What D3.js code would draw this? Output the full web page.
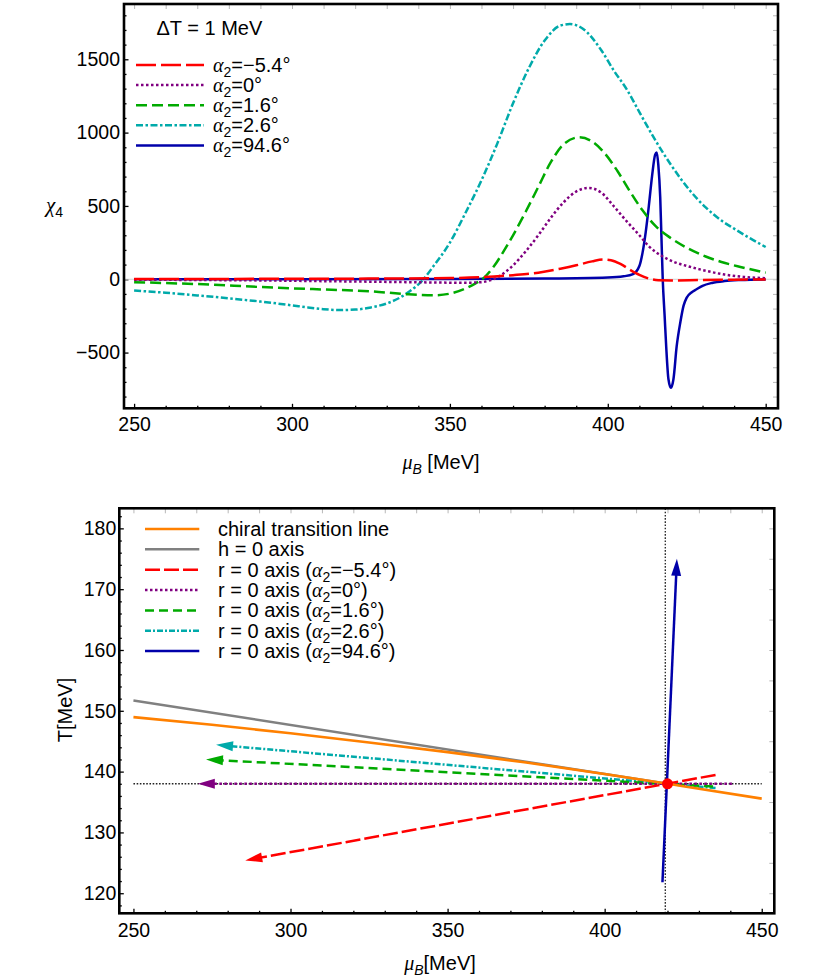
<!DOCTYPE html>
<html>
<head>
<meta charset="utf-8">
<script src="https://cdn.jsdelivr.net/npm/d3@7"></script>
<style>
  body { margin: 0; background: #fff; }
  text { font-family: "Liberation Sans", Arial, Helvetica, sans-serif; }
</style>
</head>
<body>
<svg id="chart" width="830" height="979"></svg>
<script>
// ---- top panel: chi_4 vs mu_B, one curve per alpha_2 ----
const alphaLabels = ['−5.4°', '0°', '1.6°', '2.6°', '94.6°'];

const muRed  = [250, 300, 330, 350, 360, 370, 378, 385, 390, 395, 398.5, 401, 404, 407, 410, 413, 416, 420, 430, 440, 450];
const chiRed = [2, 3, 5, 8, 14, 28, 45, 72, 95, 122, 135, 130, 105, 65, 30, 5, -7, -8, -5, -3, -2];

const muPurple  = [250, 270, 290, 310, 330, 345, 355, 360, 363, 366, 370, 374, 378, 382, 386, 390, 394, 398, 402, 406, 410, 413, 417, 421, 426, 431, 437, 443, 450];
const chiPurple = [-3, -5, -8, -13, -18, -22, -24, -20, -5, 25, 95, 190, 300, 420, 525, 598, 623, 590, 495, 395, 300, 225, 160, 118, 85, 58, 32, 16, 7];

const muGreen  = [250, 270, 290, 310, 325, 337, 345, 350, 355, 358, 361, 364, 367, 370, 374, 378, 382, 386, 391, 395, 399, 403, 407, 411, 415, 420, 425, 431, 436, 442, 450];
const chiGreen = [-20, -33, -53, -70, -82, -103, -109, -98, -62, -30, 15, 90, 190, 300, 460, 630, 800, 920, 968, 940, 860, 740, 600, 470, 365, 280, 215, 155, 118, 84, 45];

const muCyan  = [250, 260, 270, 280, 290, 300, 305, 310, 315, 320, 325, 330, 335, 338, 341, 345, 350, 355, 360, 365, 370, 375, 380, 385, 388, 392, 398, 402, 406, 410, 415, 420, 426, 431, 436, 440, 445, 450];
const chiCyan = [-77, -92, -110, -130, -152, -178, -192, -204, -210, -207, -192, -165, -115, -70, -15, 95, 250, 455, 675, 925, 1200, 1440, 1628, 1730, 1740, 1710, 1560, 1420, 1295, 1140, 950, 780, 605, 490, 400, 345, 280, 220];

const muBlue  = [250, 350, 380, 400, 405, 408, 410, 411, 412, 413, 414, 415, 415.5, 416, 416.6, 417, 417.4, 418, 418.5, 419.2, 420, 420.8, 421.8, 423, 424, 425, 426.5, 428, 430, 433, 437, 442, 450];
const chiBlue = [0, 2, 5, 12, 20, 35, 90, 180, 320, 500, 700, 850, 865, 780, 560, 280, 0, -250, -460, -680, -740, -680, -460, -290, -180, -125, -90, -70, -45, -25, -12, -5, -1];

const topXTicks = [250, 300, 350, 400, 450];
const topYTicks = [-500, 0, 500, 1000, 1500];

// ---- bottom panel: lines in the (mu_B, T) plane ----
const chiralMu = [250, 275, 300, 325, 350, 375, 400, 425, 450];
const chiralT  = [148.96, 147.7, 146.3, 144.8, 143.2, 141.5, 139.6, 137.6, 135.56];
const hZeroLine  = [[250, 151.7], [420, 138]];
// r = 0 axes, listed from the tail to the arrow tip
const rRed    = [[435.3, 139.45], [285.6, 125.4]];
const rPurple = [[440.5, 138], [270.5, 138]];
const rGreen  = [[434.5, 137.57], [273.1, 142.0]];
const rCyan   = [[435.3, 137.3], [276.3, 144.4]];
const rBlue   = [[418.4, 121.8], [423.0, 175.0]];
const critPoint = [420, 138];
const guideMu = 419.3, guideT = 138;
const botLabels = ['chiral transition line', 'h = 0 axis', '−5.4°', '0°', '1.6°', '2.6°', '94.6°'];

const botXTicks = [250, 300, 350, 400, 450];
const botYTicks = [120, 130, 140, 150, 160, 170, 180];

// ---- styles ----
const RED = '#ff0000', PURPLE = '#800080', GREEN = '#00aa00', CYAN = '#00aaaa', BLUE = '#0000aa',
      ORANGE = '#ff8000', GRAY = '#808080';
const topColors = [RED, PURPLE, GREEN, CYAN, BLUE];
const topDash = ['20,5', '2.5,2.5', '11,5', '7,2.5,2.5,2.5', null];

const svg = d3.select('#chart');

function range(a, b, s) { return d3.range(a, b + s / 2, s); }

function frameAxes(x, y, o) {
  const [L, R] = x.range(), [B, T] = y.range();
  const gray = g => { g.select('.domain').remove(); g.selectAll('line').attr('stroke', '#b8b8b8'); };
  const black = g => { g.select('.domain').remove(); g.selectAll('line').attr('stroke', '#000').attr('stroke-width', 1.3); };

  // top and right: grey inward ticks, no labels
  svg.append('g').attr('transform', `translate(0,${T})`)
    .call(d3.axisTop(x).tickValues(range(250, 450, 10)).tickSize(-5).tickFormat('')).call(gray);
  svg.append('g').attr('transform', `translate(${R},0)`)
    .call(d3.axisRight(y).tickValues(o.rightTicks).tickSize(-5).tickFormat('')).call(gray);

  // bottom: minor + major
  svg.append('g').attr('transform', `translate(0,${B})`)
    .call(d3.axisBottom(x).tickValues(range(250, 450, 10).filter(v => v % 50)).tickSize(-2.5).tickFormat('')).call(black);
  svg.append('g').attr('transform', `translate(0,${B})`)
    .call(d3.axisBottom(x).tickValues(o.xTicks).tickSize(-4.5).tickPadding(o.xPad).tickFormat(d3.format('d')))
    .call(black)
    .call(g => g.selectAll('text').attr('font-size', 19.5).attr('font-family', null).attr('fill', '#000'));

  // left: minor + major
  svg.append('g').attr('transform', `translate(${L},0)`)
    .call(d3.axisLeft(y).tickValues(o.yMinor.filter(v => !o.yTicks.includes(v))).tickSize(-2.5).tickFormat('')).call(black);
  svg.append('g').attr('transform', `translate(${L},0)`)
    .call(d3.axisLeft(y).tickValues(o.yTicks).tickSize(-4.5).tickPadding(o.yPad).tickFormat(d3.format('d')))
    .call(black)
    .call(g => g.selectAll('text').attr('font-size', 19.5).attr('font-family', null).attr('fill', '#000'));
}

function drawFrame(x, y) {
  const [L, R] = x.range(), [B, T] = y.range();
  svg.append('rect').attr('x', L).attr('y', T).attr('width', R - L).attr('height', B - T)
    .attr('fill', 'none').attr('stroke', '#000').attr('stroke-width', 2.6);
}

function alphaText(sel, prefix, value) {
  if (prefix) sel.append('tspan').text(prefix);
  sel.append('tspan').attr('font-style', 'italic').attr('font-family', '"Liberation Serif", serif').text('α');
  sel.append('tspan').attr('font-size', 14).attr('dy', 5).text('2');
  sel.append('tspan').attr('dy', -5).text('=' + value + (prefix ? ')' : ''));
}

// =================== TOP PANEL ===================
const x1 = d3.scaleLinear().domain([246.8, 453.9]).range([124, 778]);
const y1 = d3.scaleLinear().domain([-880, 1877]).range([408.3, 4]);

frameAxes(x1, y1, {
  xTicks: topXTicks, yTicks: topYTicks, xPad: 8.5, yPad: 4,
  yMinor: range(-800, 1800, 100), rightTicks: range(-800, 1800, 100)
});

// zero axis
svg.append('line').attr('x1', x1.range()[0]).attr('x2', x1.range()[1])
  .attr('y1', y1(0)).attr('y2', y1(0)).attr('stroke', '#d0d0d0').attr('stroke-width', 1);

const topSeries = [
  { mu: muRed, chi: chiRed }, { mu: muPurple, chi: chiPurple }, { mu: muGreen, chi: chiGreen },
  { mu: muCyan, chi: chiCyan }, { mu: muBlue, chi: chiBlue }
];
const line1 = d3.line().x(d => x1(d[0])).y(d => y1(d[1])).curve(d3.curveMonotoneX);

// draw so that the first legend entry ends up on top
[4, 3, 2, 1, 0].forEach(i => {
  const s = topSeries[i];
  svg.append('path')
    .attr('d', line1(s.mu.map((m, k) => [m, s.chi[k]])))
    .attr('fill', 'none').attr('stroke', topColors[i]).attr('stroke-width', 2.5)
    .attr('stroke-dasharray', topDash[i]);
});

drawFrame(x1, y1);

// legend
svg.append('text').attr('x', 156.5).attr('y', 35).attr('font-size', 20).text('ΔT = 1 MeV');
alphaLabels.forEach((lab, i) => {
  const yy = 65 + i * 20.1;
  svg.append('line').attr('x1', 136).attr('x2', 204).attr('y1', yy).attr('y2', yy)
    .attr('stroke', topColors[i]).attr('stroke-width', 2.5).attr('stroke-dasharray', topDash[i]);
  const t = svg.append('text').attr('x', 213).attr('y', yy + 7).attr('font-size', 20);
  alphaText(t, null, lab);
});

// axis labels
const chiLab = svg.append('text').attr('x', 46).attr('y', 212).attr('font-size', 21);
chiLab.append('tspan').attr('font-style', 'italic').attr('font-family', '"Liberation Serif", serif').text('χ');
chiLab.append('tspan').attr('font-size', 14).attr('dy', 5).text('4');

const muLab1 = svg.append('text').attr('x', 441).attr('y', 469).attr('text-anchor', 'middle').attr('font-size', 20);
muLab1.append('tspan').attr('font-style', 'italic').attr('font-family', '"Liberation Serif", serif').text('μ');
muLab1.append('tspan').attr('font-style', 'italic').attr('font-size', 14).attr('dy', 5).text('B');
muLab1.append('tspan').attr('dy', -5).text(' [MeV]');

// =================== BOTTOM PANEL ===================
const x2 = d3.scaleLinear().domain([245.5, 454.0]).range([119.3, 774.3]);
const y2 = d3.scaleLinear().domain([116.7, 183.3]).range([913.3, 508.3]);

frameAxes(x2, y2, {
  xTicks: botXTicks, yTicks: botYTicks, xPad: 9.5, yPad: 3,
  yMinor: range(118, 182, 2), rightTicks: range(120, 180, 5)
});

const line2 = d3.line().x(d => x2(d[0])).y(d => y2(d[1]));

// dotted guides through the critical point
svg.append('path').attr('d', line2([[250, guideT], [450, guideT]]))
  .attr('stroke', '#222').attr('stroke-width', 1.3).attr('stroke-dasharray', '1.6,1.6').attr('fill', 'none');
svg.append('path').attr('d', line2([[guideMu, y2.domain()[0]], [guideMu, y2.domain()[1]]]))
  .attr('stroke', '#222').attr('stroke-width', 1.3).attr('stroke-dasharray', '1.6,1.6').attr('fill', 'none');

svg.append('path').attr('d', line2(hZeroLine)).attr('stroke', GRAY).attr('stroke-width', 2.5).attr('fill', 'none');

function arrow(pts, color, dash) {
  const a = [x2(pts[0][0]), y2(pts[0][1])], b = [x2(pts[1][0]), y2(pts[1][1])];
  const dx = b[0] - a[0], dy = b[1] - a[1], len = Math.hypot(dx, dy), ux = dx / len, uy = dy / len;
  const hl = 17, hw = 5;
  const base = [b[0] - ux * hl, b[1] - uy * hl];
  svg.append('path').attr('d', d3.line()([a, [base[0] + ux * 3, base[1] + uy * 3]]))
    .attr('stroke', color).attr('stroke-width', 2.5).attr('fill', 'none').attr('stroke-dasharray', dash);
  svg.append('path')
    .attr('d', d3.line()([b, [base[0] - uy * hw, base[1] + ux * hw], [base[0] + uy * hw, base[1] - ux * hw]]) + 'Z')
    .attr('fill', color);
}

const botColors = [ORANGE, GRAY, RED, PURPLE, GREEN, CYAN, BLUE];
const botDash = [null, null, '15,4', '2.5,2.5', '9,5', '6,2,2,2', null];

arrow(rCyan, CYAN, botDash[5]);
arrow(rGreen, GREEN, botDash[4]);
arrow(rPurple, PURPLE, botDash[3]);
arrow(rRed, RED, botDash[2]);
arrow(rBlue, BLUE, null);

svg.append('path').attr('d', line2.curve(d3.curveMonotoneX)(chiralMu.map((m, k) => [m, chiralT[k]])))
  .attr('stroke', ORANGE).attr('stroke-width', 2.6).attr('fill', 'none');

svg.append('circle').attr('cx', x2(critPoint[0])).attr('cy', y2(critPoint[1])).attr('r', 5.5).attr('fill', RED);

drawFrame(x2, y2);

// legend
botLabels.forEach((lab, i) => {
  const yy = 529 + i * 20.35;
  svg.append('line').attr('x1', 145).attr('x2', 199.3).attr('y1', yy).attr('y2', yy)
    .attr('stroke', botColors[i]).attr('stroke-width', 2.5).attr('stroke-dasharray', botDash[i]);
  const t = svg.append('text').attr('x', 218).attr('y', yy + 7).attr('font-size', 20);
  if (i < 2) t.text(lab); else alphaText(t, 'r = 0 axis (', lab);
});

svg.append('text').attr('transform', 'translate(72,710) rotate(-90)').attr('text-anchor', 'middle')
  .attr('font-size', 20).text('T[MeV]');

const muLab2 = svg.append('text').attr('x', 440).attr('y', 970).attr('text-anchor', 'middle').attr('font-size', 20);
muLab2.append('tspan').attr('font-style', 'italic').attr('font-family', '"Liberation Serif", serif').text('μ');
muLab2.append('tspan').attr('font-style', 'italic').attr('font-size', 14).attr('dy', 5).text('B');
muLab2.append('tspan').attr('dy', -5).text('[MeV]');
</script>
</body>
</html>
